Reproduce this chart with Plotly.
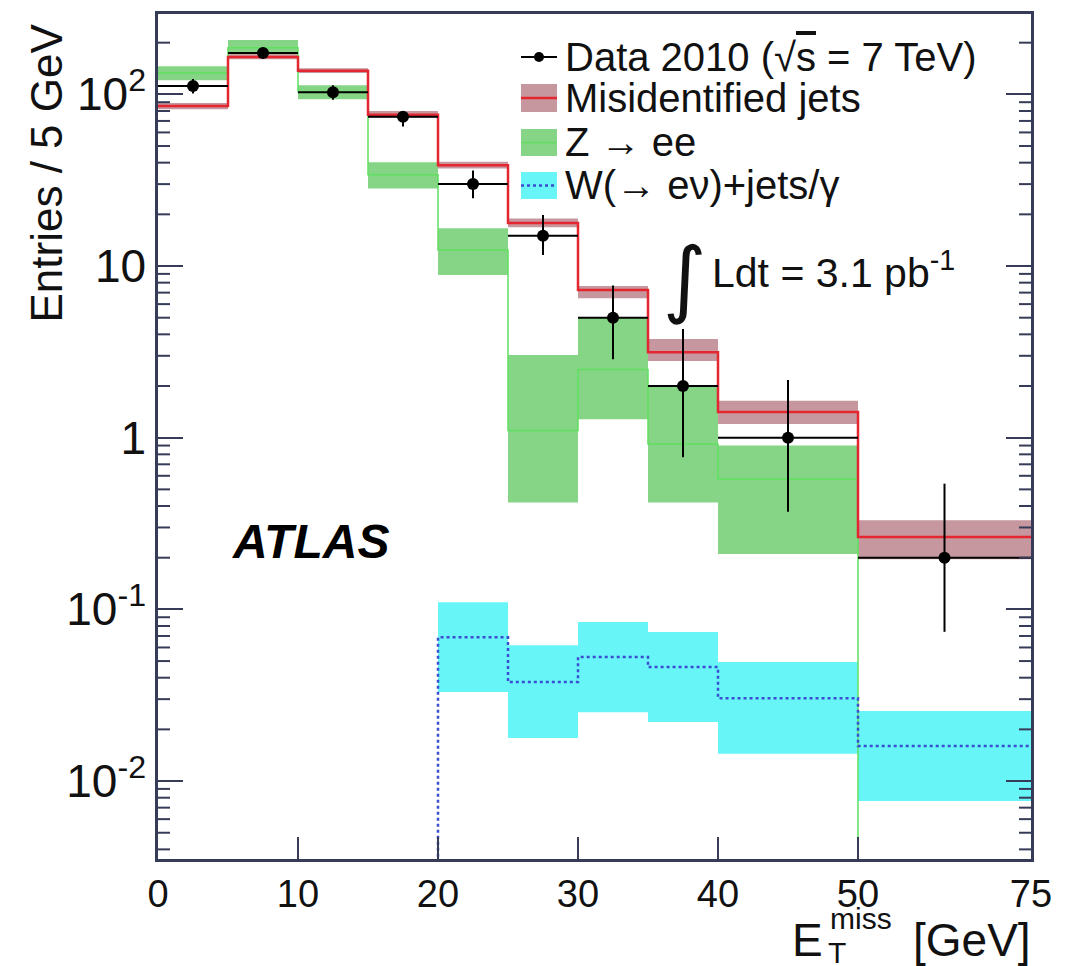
import plotly.graph_objects as go

# ---------------- data ----------------
edges_gev = [0, 5, 10, 15, 20, 25, 30, 35, 40, 50, 75]
x_tick_gev = [0, 10, 20, 30, 40, 50, 75]
x_tick_text = ["0", "10", "20", "30", "40", "50", "75"]
y_tick_vals = [0.01, 0.1, 1, 10, 100]
y_tick_text = ["10<sup>-2</sup>", "10<sup>-1</sup>", "1", "10", "10<sup>2</sup>"]

data_val = [112, 174, 103, 74, 30, 15, 5, 2, 1, 0.2]
data_hi = [123, 187, 113, 79, 36, 19.8, 7.7, 4.3, 2.17, 0.54]
data_lo = [101, 161, 93, 65, 24.8, 11.6, 2.86, 0.77, 0.37, 0.074]

jets_val = [85.5, 165, 137, 76, 38.7, 17.8, 7.24, 3.15, 1.41, 0.264]
jets_lo = [82, 160, 133, 73, 37, 16.8, 6.5, 2.8, 1.2, 0.196]
jets_hi = [89, 171, 142, 80, 40.5, 18.9, 7.65, 3.76, 1.64, 0.33]

z_val = [133, 187, 104, 34, 12.4, 1.1, 2.5, 0.92, 0.575, 0]
z_lo = [121, 170, 93.5, 28.3, 8.86, 0.42, 1.28, 0.42, 0.21, None]
z_hi = [146, 207, 113, 40.2, 16.6, 3.03, 5.02, 2.02, 0.90, None]

w_val = [0, 0, 0, 0, 0.0687, 0.0377, 0.0528, 0.0461, 0.0304, 0.016]
w_lo = [None, None, None, None, 0.033, 0.0178, 0.0252, 0.0221, 0.0144, 0.00766]
w_hi = [None, None, None, None, 0.110, 0.0619, 0.0843, 0.0738, 0.0493, 0.0256]

legend_labels = ["Data 2010 (√<span style='text-decoration:overline'>s</span> = 7 TeV)",
                 "Misidentified jets", "Z → ee", "W(→ eν)+jets/γ"]

# ---------------- styling ----------------
FONT = "Liberation Sans, Arial, Helvetica, sans-serif"
AX = "#363b58"
RED = "#e3262f"
JETS_FILL = "#c6979e"
Z_FILL = "#86d586"
Z_LINE = "#5fe05f"
W_FILL = "#68f5f8"
W_LINE = "#3a4ed0"
FLOOR = 0.003  # display floor for empty bins (just below the visible log range)

# x axis: linear up to 50 GeV, last bin (50-75) compressed
SPLIT = 50
COMPRESS = 173 / 350


def xpos(e):
    return e if e <= SPLIT else SPLIT + (e - SPLIT) * COMPRESS


xe = [xpos(e) for e in edges_gev]
xc = [(a + b) / 2 for a, b in zip(xe[:-1], xe[1:])]
xhw = [(b - a) / 2 for a, b in zip(xe[:-1], xe[1:])]


def band(lo, hi):
    xs, ys = [], []
    for i, (l, h) in enumerate(zip(lo, hi)):
        if l is None:
            continue
        xs += [xe[i], xe[i + 1], xe[i + 1], xe[i], xe[i], None]
        ys += [l, l, h, h, l, None]
    return xs, ys


def step(vals):
    v = [max(val, FLOOR) for val in vals]
    return xe, v + [v[-1]]


# ---------------- layout geometry ----------------
L, R, T, B = 158, 1031, 14, 859
W_, H_ = 1066, 966
YRANGE = [-2.454, 2.468]
XMAX = xpos(75)


def px(p):
    return (p - L) / (R - L)


def py(p):
    return (B - p) / (B - T)


fig = go.Figure()

for lo, hi, col in [(z_lo, z_hi, Z_FILL), (jets_lo, jets_hi, JETS_FILL), (w_lo, w_hi, W_FILL)]:
    bx, by = band(lo, hi)
    fig.add_trace(go.Scatter(x=bx, y=by, mode="lines", fill="toself", fillcolor=col,
                             line=dict(width=0), hoverinfo="skip"))

sx, sy = step(z_val)
fig.add_trace(go.Scatter(x=sx, y=sy, mode="lines", line=dict(color=Z_LINE, width=1.5, shape="hv")))
sx, sy = step(w_val)
fig.add_trace(go.Scatter(x=sx, y=sy, mode="lines", line=dict(color=W_LINE, width=2.5, shape="hv", dash="dot")))
sx, sy = step(jets_val)
fig.add_trace(go.Scatter(x=sx, y=sy, mode="lines", line=dict(color=RED, width=2.5, shape="hv")))

fig.add_trace(go.Scatter(
    x=xc, y=data_val, mode="markers",
    marker=dict(color="black", size=12),
    error_x=dict(type="data", array=xhw, width=0, thickness=2, color="black"),
    error_y=dict(type="data", symmetric=False,
                 array=[h - v for h, v in zip(data_hi, data_val)],
                 arrayminus=[v - l for v, l in zip(data_val, data_lo)],
                 width=0, thickness=2, color="black"),
))

# minor log ticks (axis decoration) on the left and right frame edges, length 12 px
tick_u = 12 * XMAX / (R - L)
ylo, yhi = 10 ** YRANGE[0], 10 ** YRANGE[1]
mx, my = [], []
for d in range(-3, 3):
    for k in range(2, 10):
        v = k * 10.0 ** d
        if ylo < v < yhi:
            mx += [0, tick_u, None, XMAX - tick_u, XMAX, None]
            my += [v, v, None, v, v, None]
fig.add_trace(go.Scatter(x=mx, y=my, mode="lines", line=dict(color=AX, width=2),
                         hoverinfo="skip", connectgaps=False))

fig.update_layout(
    width=W_, height=H_,
    margin=dict(l=L, r=W_ - R, t=T, b=H_ - B),
    paper_bgcolor="white", plot_bgcolor="white",
    showlegend=False,
    font=dict(family=FONT, color="black"),
    xaxis=dict(range=[0, XMAX], tickmode="array",
               tickvals=[xpos(v) for v in x_tick_gev], ticktext=x_tick_text,
               ticks="inside", ticklen=22, tickwidth=2, tickcolor=AX,
               showline=True, linecolor=AX, linewidth=2.5, mirror=True,
               showgrid=False, zeroline=False,
               tickfont=dict(size=38, family=FONT, color="#111")),
    yaxis=dict(type="log", range=YRANGE, tickmode="array",
               tickvals=y_tick_vals, ticktext=y_tick_text,
               ticks="inside", ticklen=25, tickwidth=2, tickcolor=AX,
               showline=True, linecolor=AX, linewidth=2.5, mirror="ticks",
               showgrid=False, zeroline=False,
               tickfont=dict(size=46, family=FONT, color="#111")),
)

shapes = []
ann = []

# legend (drawn manually)
lx0, lx1 = 521, 557
shapes.append(dict(type="line", xref="paper", yref="paper", x0=px(lx0), x1=px(lx1), y0=py(57), y1=py(57),
                   line=dict(color="black", width=2)))
shapes.append(dict(type="circle", xref="paper", yref="paper", x0=px(534), x1=px(544), y0=py(52), y1=py(62),
                   fillcolor="black", line=dict(color="black", width=0)))
shapes.append(dict(type="rect", xref="paper", yref="paper", x0=px(lx0), x1=px(lx1), y0=py(84), y1=py(112),
                   fillcolor=JETS_FILL, line=dict(width=0)))
shapes.append(dict(type="line", xref="paper", yref="paper", x0=px(lx0), x1=px(lx1), y0=py(98), y1=py(98),
                   line=dict(color=RED, width=2.5)))
shapes.append(dict(type="rect", xref="paper", yref="paper", x0=px(lx0), x1=px(lx1), y0=py(129), y1=py(156),
                   fillcolor=Z_FILL, line=dict(width=0)))
shapes.append(dict(type="line", xref="paper", yref="paper", x0=px(lx0), x1=px(lx1), y0=py(142.5), y1=py(142.5),
                   line=dict(color=Z_LINE, width=1.5)))
shapes.append(dict(type="rect", xref="paper", yref="paper", x0=px(lx0), x1=px(lx1), y0=py(172), y1=py(199),
                   fillcolor=W_FILL, line=dict(width=0)))
shapes.append(dict(type="line", xref="paper", yref="paper", x0=px(lx0), x1=px(lx1), y0=py(185.5), y1=py(185.5),
                   line=dict(color=W_LINE, width=2.5, dash="dot")))

for lab, yc in zip(legend_labels, [57, 98, 142.5, 185.5]):
    ann.append(dict(text=lab, xref="paper", yref="paper", x=px(563), y=py(yc), xanchor="left", yanchor="middle",
                    showarrow=False, font=dict(size=40, family=FONT, color="#111")))

# luminosity
ann.append(dict(text="∫", xref="paper", yref="paper", x=px(685), y=py(278), xanchor="center", yanchor="middle",
                showarrow=False, font=dict(size=84, family="DejaVu Sans, " + FONT, color="#111")))
ann.append(dict(text="Ldt = 3.1 pb<sup>-1</sup>", xref="paper", yref="paper", x=px(710), y=py(270),
                xanchor="left", yanchor="middle", showarrow=False,
                font=dict(size=41, family=FONT, color="#111")))

# ATLAS
ann.append(dict(text="<b><i>ATLAS</i></b>", xref="paper", yref="paper", x=px(310), y=py(541),
                xanchor="center", yanchor="middle", showarrow=False,
                font=dict(size=48, family=FONT, color="black")))

# y title
ann.append(dict(text="Entries / 5 GeV", xref="paper", yref="paper", x=px(46), y=py(22),
                xanchor="center", yanchor="top", textangle=-90, showarrow=False,
                font=dict(size=44, family=FONT, color="#111")))

# x title: E_T^miss [GeV]
ann.append(dict(text="[GeV]", xref="paper", yref="paper", x=px(1033), y=py(940), xanchor="right",
                yanchor="middle", showarrow=False, font=dict(size=46, family=FONT, color="#111")))
ann.append(dict(text="E", xref="paper", yref="paper", x=px(790), y=py(940), xanchor="left",
                yanchor="middle", showarrow=False, font=dict(size=46, family=FONT, color="#111")))
ann.append(dict(text="miss", xref="paper", yref="paper", x=px(828), y=py(919), xanchor="left",
                yanchor="middle", showarrow=False, font=dict(size=30, family=FONT, color="#111")))
ann.append(dict(text="T", xref="paper", yref="paper", x=px(826), y=py(952), xanchor="left",
                yanchor="middle", showarrow=False, font=dict(size=30, family=FONT, color="#111")))

fig.update_layout(shapes=shapes, annotations=ann)

fig.write_html("out.html")
